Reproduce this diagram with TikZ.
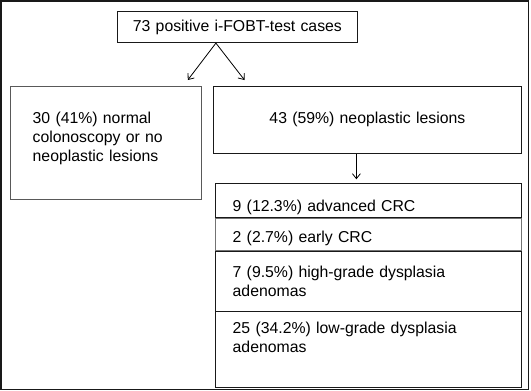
\documentclass[tikz,border=0pt]{standalone}
\usepackage{fontspec}
\setmainfont{Liberation Sans}
\usepackage{tikz}
\usetikzlibrary{positioning,arrows.meta}

\begin{document}
\begin{tikzpicture}[x=1pt, y=-1pt, line width=0.8pt,
    box/.style={draw=black!90, rectangle, inner ysep=0pt, font=\fontsize{15.8}{19}\selectfont},
    row/.style={box, text width=271.4pt, inner xsep=17.3pt, align=left},
    >={Straight Barb[length=5pt,width=8pt]}]
  \useasboundingbox (0,0) rectangle (531,391);
  \draw[line width=1.6pt, black!90] (1,1) rectangle (528.5,389.5);

  % top and second level
  \node[box, anchor=north west, text width=239.4pt, inner xsep=0pt, align=center,
        text height=20pt, text depth=11.6pt] (cases) at (117.3,10.7) {73 positive i-FOBT-test cases};
  \node[box, draw=black!65, anchor=north west, text width=146.4pt, inner xsep=22.3pt, align=left,
        text height=37pt, text depth=76.3pt] (normal) at (10,85.7)
        {30 (41\%) normal\\colonoscopy or no\\neoplastic lesions};
  \node[box, anchor=north west, text width=308pt, inner xsep=0pt, align=center,
        text height=37pt, text depth=30.6pt] (neo) at (213,85.7) {43 (59\%) neoplastic lesions};

  % stack of lesions
  \node[row, anchor=north west, text height=27.4pt, text depth=6pt] (advcrc) at (215,183.3) {9 (12.3\%) advanced CRC};
  \node[row, draw=black!55, below=0pt of advcrc, text height=25pt, text depth=7.6pt] (early) {2 (2.7\%) early CRC};
  \node[row, below=0pt of early, text height=25.7pt, text depth=34pt] (hgd) {7 (9.5\%) high-grade dysplasia\\adenomas};
  \node[row, below=0pt of hgd, text height=21.7pt, text depth=54.3pt] (lgd) {25 (34.2\%) low-grade dysplasia\\adenomas};
  \draw[line width=1.6pt, black!90] (hgd.south west) -- (hgd.south east);

  \coordinate (fork) at ([xshift=-21.5pt]cases.south);
  \draw[->] (fork) -- ([xshift=-14pt, yshift=5.7pt]normal.north east);
  \draw[->] (fork) -- ([xshift=31.5pt, yshift=5.7pt]neo.north west);
  \draw[->] ([xshift=-11pt]neo.south) coordinate (down) -- ([yshift=4pt]down |- advcrc.north);
\end{tikzpicture}
\end{document}
